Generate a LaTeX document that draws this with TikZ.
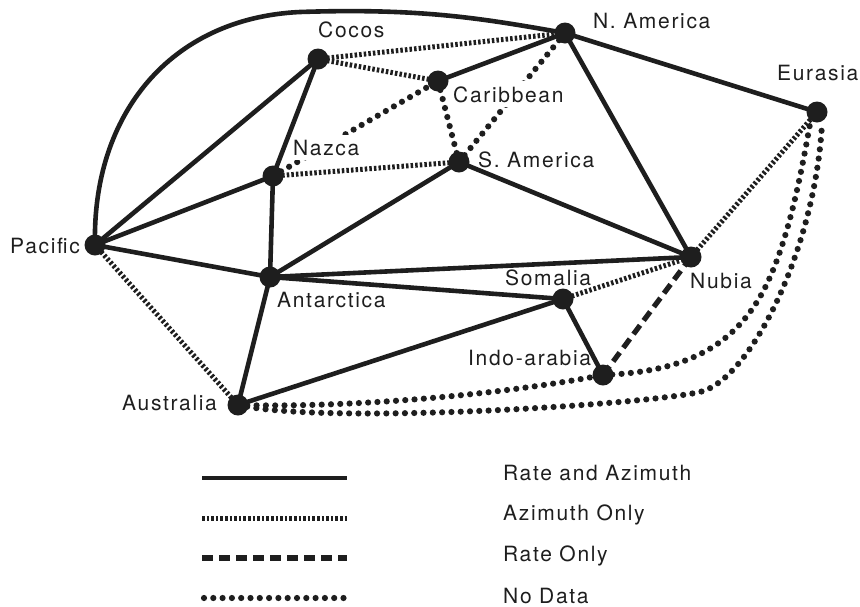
\documentclass[tikz,border=0pt]{standalone}
\usepackage{fontspec}
\setmainfont{TeX Gyre Heros}[LetterSpace=8]
\definecolor{ink}{HTML}{1E1E1E}
\begin{document}
\begin{tikzpicture}[x=1pt,y=-1pt,
 dot/.style={circle,fill=ink,minimum size=21pt,inner sep=0pt},
 lbl/.style={anchor=base west,inner sep=0pt,text=ink,font=\fontsize{21}{24}\selectfont},
 cutlbl/.style={lbl,fill=white,inner xsep=2pt,inner ysep=5pt},
 ra/.style={draw=ink,line width=4.6pt},
 az/.style={draw=ink,line width=5pt,dash pattern=on 2.5pt off 2.1pt},
 ro/.style={draw=ink,line width=5.2pt,dash pattern=on 11pt off 6pt},
 nd/.style={draw=ink,line width=6.2pt,line cap=round,dash pattern=on 0pt off 9.3pt}]
\useasboundingbox (0,0) rectangle (860,606);
% plate positions
\coordinate (nam) at (565,33);
\coordinate (coc) at (318,59);
\coordinate (car) at (438,81);
\coordinate (sam) at (459,162);
\coordinate (naz) at (273,176);
\coordinate (pac) at (95,245);
\coordinate (ant) at (270,277);
\coordinate (nub) at (691,257);
\coordinate (som) at (563,299);
\coordinate (ind) at (603,375);
\coordinate (aus) at (238,405);
\coordinate (eur) at (817,112);
% no data
\draw[nd] (naz) -- (car);
\draw[nd] (nam) -- (sam);
\draw[nd] (car) -- (sam);
\draw[nd] (aus) .. controls (350,408) and (500,395) .. (ind);
\draw[nd] (ind) .. controls (680,372) and (725,350) .. (755,305) .. controls (785,260) and (800,180) .. (810,124);
\draw[nd] (aus) .. controls (330,425) and (640,405) .. (700,392) .. controls (750,380) and (815,250) .. (822,124);
% labels that interrupt lines
\node[cutlbl] (lnaz) at (291,155) {Nazca};
\node[cutlbl] (lcar) at (451,102) {Caribbean};
% rate and azimuth
\draw[ra] (pac) .. controls (92,115) and (170,18) .. (300,12) .. controls (420,8) and (480,18) .. (nam);
\draw[ra] (pac) -- (coc);
\draw[ra] (pac) -- (naz);
\draw[ra] (pac) -- (ant);
\draw[ra] (coc) -- (naz);
\draw[ra] (naz) -- (ant);
\draw[ra] (ant) -- (sam);
\draw[ra] (ant) -- (nub);
\draw[ra] (ant) -- (som);
\draw[ra] (ant) -- (aus);
\draw[ra] (aus) -- (som);
\draw[ra] (car) -- (nam);
\draw[ra] (nam) -- (nub);
\draw[ra] (nam) -- (eur);
\draw[ra] (sam) -- (nub);
\draw[ra] (som) -- (ind);
% azimuth only
\draw[az] (coc) -- (nam);
\draw[az] (coc) -- (car);
\draw[az] (naz) -- (sam);
\draw[az] (pac) -- (aus);
\draw[az] (nub) -- (eur);
\draw[az] (som) -- (nub);
% rate only
\draw[ro] (ind) -- (nub);
% dots
\foreach \p in {nam,coc,car,sam,naz,pac,ant,nub,som,ind,aus,eur}
  \node[dot] (d\p) at (\p) {};
% labels
\node[lbl] (lcoc) at (318,37) {Cocos};
\node[lbl] (lnam) at (593,28) {N. America};
\node[lbl] (lsam) at (478,167) {S. America};
\node[lbl] (leur) at (777,80) {Eurasia};
\node[lbl] (lpac) at (10,253) {Pacific};
\node[lbl] (lant) at (277,307) {Antarctica};
\node[lbl] (lsom) at (505,285) {Somalia};
\node[lbl] (lnub) at (690,288) {Nubia};
\node[lbl] (lind) at (468,365) {Indo-arabia};
\node[lbl] (laus) at (122,410) {Australia};
% legend
\coordinate (a1) at (202,478); \coordinate (b1) at (347,478);
\coordinate (a2) at (202,518); \coordinate (b2) at (347,518);
\coordinate (a3) at (202,558); \coordinate (b3) at (347,558);
\coordinate (a4) at (204,598); \coordinate (b4) at (346,598);
\draw[ra] (a1) -- (b1);
\draw[az] (a2) -- (b2);
\draw[ro] (a3) -- (b3);
\draw[nd] (a4) -- (b4);
\node[lbl] (t1) at (503,480) {Rate and Azimuth};
\node[lbl] (t2) at (503,520) {Azimuth Only};
\node[lbl] (t3) at (503,561) {Rate Only};
\node[lbl] (t4) at (503,603) {No Data};
\end{tikzpicture}
\end{document}
